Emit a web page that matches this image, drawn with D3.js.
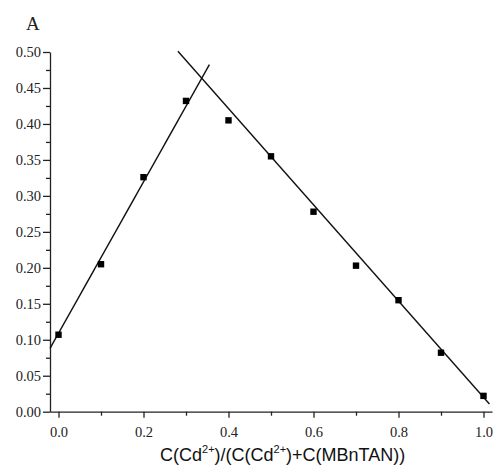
<!DOCTYPE html>
<html>
<head>
<meta charset="utf-8">
<script src="https://cdn.jsdelivr.net/npm/d3@7"></script>
<style>
  body { margin: 0; background: #fff; }
  svg { display: block; }
</style>
</head>
<body>
<svg width="495" height="467"></svg>
<script>
// measured points (mole fraction vs absorbance)
var molFraction = [0.0, 0.1, 0.2, 0.3, 0.4, 0.5, 0.6, 0.7, 0.8, 0.9, 1.0];
var absorbance = [0.107, 0.205, 0.326, 0.432, 0.405, 0.355, 0.278, 0.203, 0.155, 0.082, 0.022];

// fitted lines, endpoints
var riseLineX = [-0.02, 0.355];
var riseLineY = [0.088, 0.4825];
var fallLineX = [0.281, 1.014];
var fallLineY = [0.501, 0.0107];

var yTicks = [0, 0.05, 0.1, 0.15, 0.2, 0.25, 0.3, 0.35, 0.4, 0.45, 0.5];
var xTicks = [0, 0.2, 0.4, 0.6, 0.8, 1.0];

var svg = d3.select("svg");

var x = d3.scaleLinear().domain([-0.02, 1.02]).range([50, 492]);
var y = d3.scaleLinear().domain([0, 0.5]).range([411.7, 52]);

var serif = "'Liberation Serif', 'Times New Roman', serif";

// y axis
var yAxis = svg.append("g")
    .attr("transform", "translate(" + x(-0.02) + ",0)")
    .call(d3.axisLeft(y).tickValues(yTicks).tickFormat(d3.format(".2f")).tickSize(7).tickSizeOuter(0));
yAxis.selectAll("text")
    .style("font-family", serif).style("font-size", "14.5px")
    .attr("fill", "#222").attr("x", -9);

// y minor ticks
svg.append("g")
    .attr("transform", "translate(" + x(-0.02) + ",0)")
    .call(d3.axisLeft(y).tickValues(d3.range(0.025, 0.5, 0.05)).tickFormat("").tickSize(4).tickSizeOuter(0))
    .select(".domain").remove();

// x axis
var xAxis = svg.append("g")
    .attr("transform", "translate(0," + y(0) + ")")
    .call(d3.axisBottom(x).tickValues(xTicks).tickFormat(d3.format(".1f")).tickSize(6).tickSizeOuter(0));
xAxis.selectAll("text")
    .style("font-family", serif).style("font-size", "14.5px")
    .attr("fill", "#222").attr("y", 15);

svg.append("g")
    .attr("transform", "translate(0," + y(0) + ")")
    .call(d3.axisBottom(x).tickValues([0.1, 0.3, 0.5, 0.7, 0.9]).tickFormat("").tickSize(4).tickSizeOuter(0))
    .select(".domain").remove();

svg.selectAll(".domain, .tick line").attr("stroke", "#222").attr("stroke-width", 1.3);

// fit lines
var line = d3.line()
    .x(function (d) { return x(d[0]); })
    .y(function (d) { return y(d[1]); });

[[riseLineX, riseLineY], [fallLineX, fallLineY]].forEach(function (f) {
    svg.append("path")
        .datum(d3.zip(f[0], f[1]))
        .attr("fill", "none")
        .attr("stroke", "#111")
        .attr("stroke-width", 1.4)
        .attr("d", line);
});

// points
svg.append("g").selectAll("rect")
    .data(d3.zip(molFraction, absorbance))
    .join("rect")
    .attr("x", function (d) { return x(d[0]) - 3.2; })
    .attr("y", function (d) { return y(d[1]) - 3.2; })
    .attr("width", 6.4)
    .attr("height", 6.4)
    .attr("fill", "#000");

// panel label
svg.append("text")
    .attr("x", 26).attr("y", 30)
    .style("font-family", serif).style("font-size", "19px")
    .attr("fill", "#222")
    .text("A");

// x axis title
var title = svg.append("text")
    .attr("x", 160).attr("y", 461)
    .style("font-family", "'Liberation Sans', Arial, sans-serif")
    .style("font-size", "18px")
    .attr("fill", "#111");
title.append("tspan").text("C(Cd");
title.append("tspan").style("font-size", "11px").attr("dy", -8).text("2+");
title.append("tspan").attr("dy", 8).text(")/(C(Cd");
title.append("tspan").style("font-size", "11px").attr("dy", -8).text("2+");
title.append("tspan").attr("dy", 8).text(")+C(MBnTAN))");
</script>
</body>
</html>
